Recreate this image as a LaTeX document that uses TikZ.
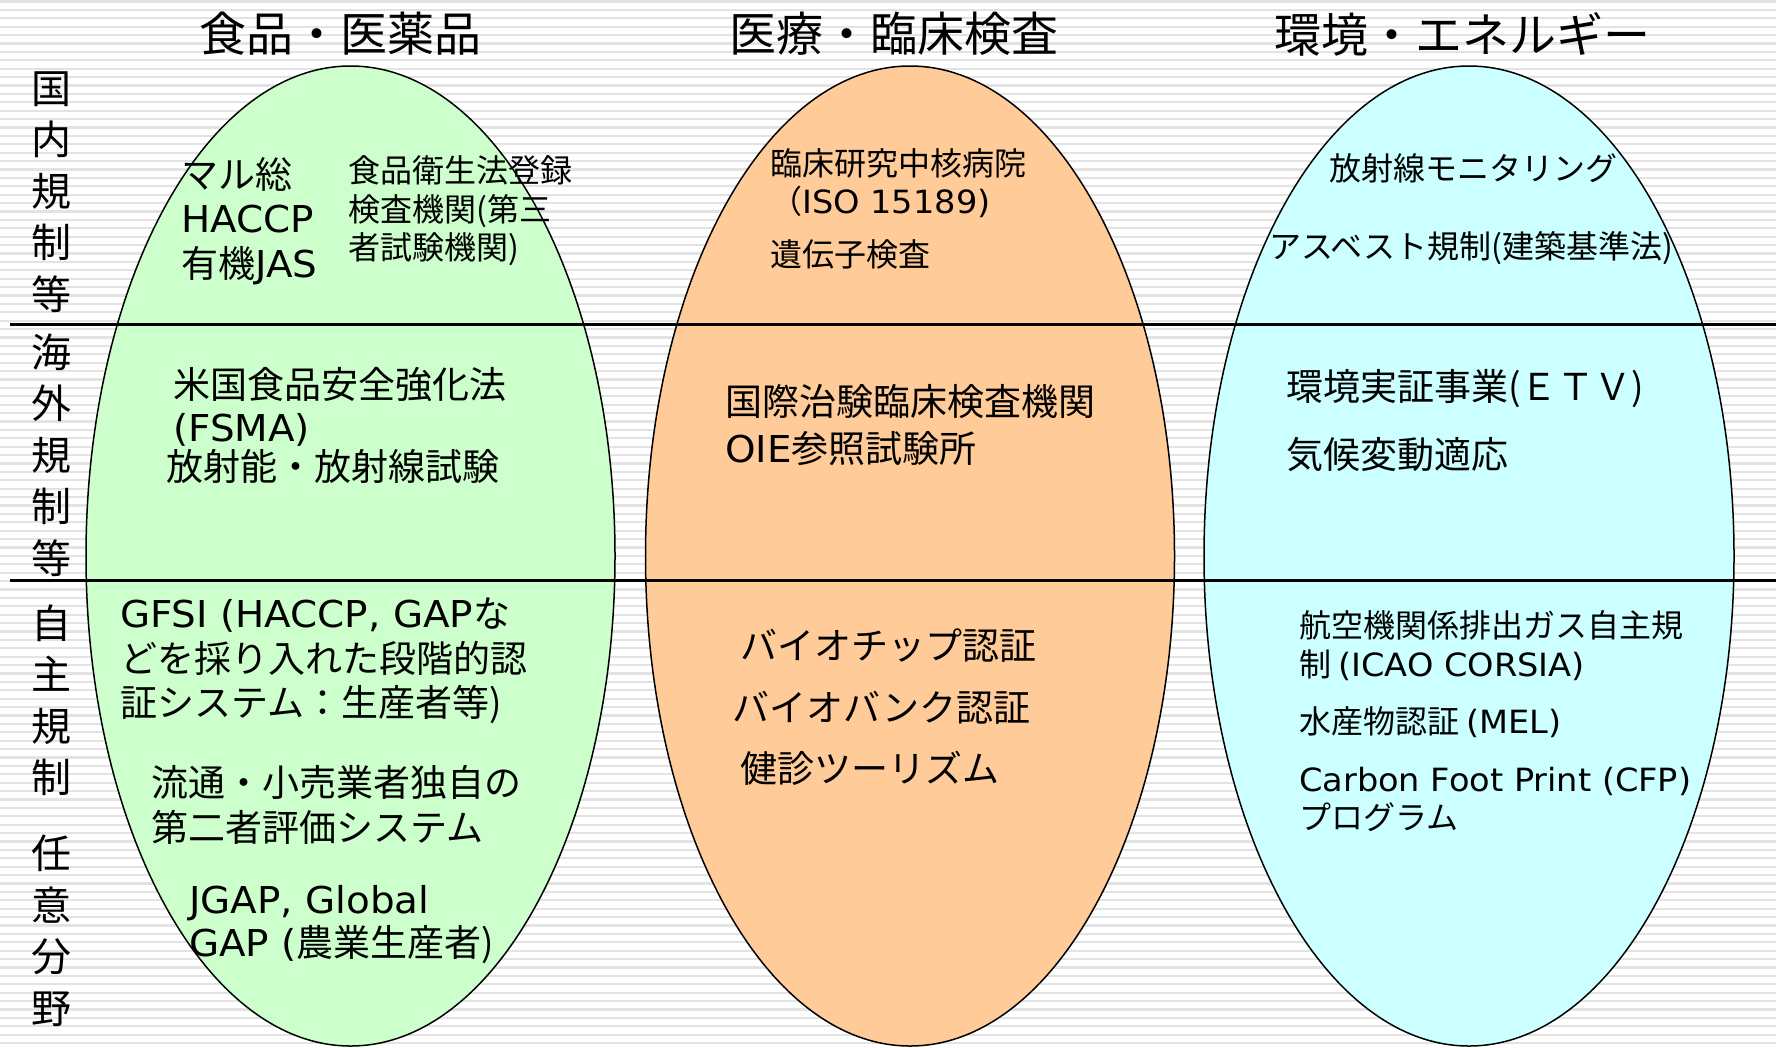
\documentclass[tikz,border=0pt]{standalone}
\usepackage{fontspec}
\setmainfont{Noto Sans CJK JP}
\newfontfamily\latf{DejaVu Sans}[FakeStretch=1.05]
\newcommand{\lat}[1]{{\latf #1}}
\definecolor{grn}{HTML}{CCFFCC}
\definecolor{org}{HTML}{FFCC99}
\definecolor{cyn}{HTML}{CCFFFF}
\definecolor{strp}{HTML}{E3E3E3}
\tikzset{
  stripe/.style={draw=strp, line width=2.2pt},
  blob/.style={draw=black, line width=1.5pt},
  rule/.style={draw=black, line width=3pt},
  ttl/.style={anchor=center, inner sep=0, font=\fontsize{47}{52}\selectfont},
  side/.style={anchor=center, inner sep=0, align=center, font=\fontsize{40}{51.5}\selectfont},
  big/.style={anchor=west, inner sep=0, align=left, font=\fontsize{37}{44.5}\selectfont},
  small/.style={anchor=west, inner sep=0, align=left, font=\fontsize{32}{38.5}\selectfont},
}
\begin{document}
\begin{tikzpicture}[x=1pt, y=-1pt]
\useasboundingbox (0,0) rectangle (1776,1047);
\fill[white] (0,0) rectangle (1776,1047);
\foreach \i in {0,...,124} { \draw[stripe] (0,{\i*8.4+1.5}) -- (1776,{\i*8.4+1.5}); }
% ellipses
\begin{scope}
\clip (0,0) rectangle (1776,1047);
\filldraw[blob, fill=grn] (350.5,556) ellipse [x radius=264.5, y radius=490];
\filldraw[blob, fill=org] (910,556) ellipse [x radius=264.5, y radius=490];
\filldraw[blob, fill=cyn] (1469,556) ellipse [x radius=265, y radius=490];
\end{scope}
% rules
\coordinate (r1a) at (10,324); \coordinate (r1b) at (1776,324);
\coordinate (r2a) at (10,580); \coordinate (r2b) at (1776,580);
\draw[rule] (r1a) -- (r1b);
\draw[rule] (r2a) -- (r2b);
% titles
\node[ttl] (t1) at (340,34) {食品・医薬品};
\node[ttl] (t2) at (894,34) {医療・臨床検査};
\node[ttl] (t3) at (1462,34) {環境・エネルギー};
% side labels
\node[side] (s1) at (51,192) {国\\内\\規\\制\\等};
\node[side] (s2) at (51,455) {海\\外\\規\\制\\等};
\node[side] (s3) at (51,700) {自\\主\\規\\制};
\node[side] (s4) at (51,931) {任\\意\\分\\野};
% green
\node[big] (g1) at (181,221) {マル総\\\lat{HACCP}\\有機\lat{JAS}};
\node[small] (g2) at (348,211) {食品衛生法登録\\検査機関(第三\\者試験機関)};
\node[big, font=\fontsize{37}{43}\selectfont] (g3) at (173,406.5) {米国食品安全強化法\\\lat{(FSMA)}};
\node[big] (g4) at (166,466) {放射能・放射線試験};
\node[big] (g5) at (120,661) {\lat{GFSI (HACCP, GAP}な\\どを採り入れた段階的認\\証システム：生産者等)};
\node[big, font=\fontsize{37}{45}\selectfont] (g6) at (151,804.5) {流通・小売業者独自の\\第二者評価システム};
\node[big, font=\fontsize{37}{43}\selectfont] (g7) at (189,924.5) {\lat{JGAP, Global}\\\lat{GAP (}農業生産者)};
% orange
\node[small, font=\fontsize{32}{38}\selectfont] (o1) at (770,183) {臨床研究中核病院\\（\lat{ISO 15189)}};
\node[small] (o2) at (770,254) {遺伝子検査};
\node[big, font=\fontsize{37}{47}\selectfont] (o3) at (725,425.5) {国際治験臨床検査機関\\\lat{OIE}参照試験所};
\node[big] (o4) at (740,646) {バイオチップ認証};
\node[big] (o5) at (732,708) {バイオバンク認証};
\node[big] (o6) at (740,768) {健診ツーリズム};
% cyan
\node[small] (c1) at (1329,168) {放射線モニタリング};
\node[small] (c2) at (1269,248) {アスベスト規制(建築基準法)};
\node[big] (c3) at (1286,389) {環境実証事業(ＥＴＶ)};
\node[big] (c4) at (1286,455) {気候変動適応};
\node[small, font=\fontsize{32}{39}\selectfont] (c5) at (1299,645.5) {航空機関係排出ガス自主規\\制 \lat{(ICAO CORSIA)}};
\node[small] (c6) at (1299,722) {水産物認証 \lat{(MEL)}};
\node[small, font=\fontsize{32}{38}\selectfont] (c7) at (1299,799) {\lat{Carbon Foot Print (CFP)}\\プログラム};
\end{tikzpicture}
\end{document}
